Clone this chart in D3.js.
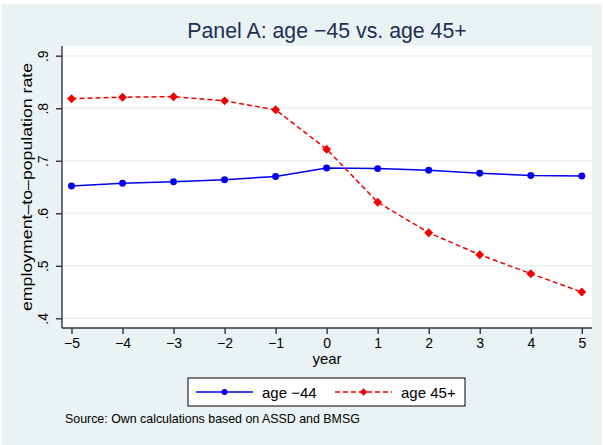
<!DOCTYPE html>
<html>
<head>
<meta charset="utf-8">
<script src="https://cdn.jsdelivr.net/npm/d3@7"></script>
<style>
  body { margin: 0; background: #fff; }
  text { font-family: "Liberation Sans", Arial, sans-serif; }
</style>
</head>
<body>
<svg id="chart" width="603" height="445"></svg>
<script>
const years = [-5, -4, -3, -2, -1, 0, 1, 2, 3, 4, 5];
const young = [0.652, 0.657, 0.660, 0.664, 0.670, 0.686, 0.685, 0.682, 0.676, 0.672, 0.671];
const old = [0.818, 0.821, 0.822, 0.814, 0.797, 0.722, 0.621, 0.563, 0.521, 0.485, 0.450];
const yTicks = [0.4, 0.5, 0.6, 0.7, 0.8, 0.9];
const seriesNames = ["age \u221244", "age 45+"];

const bg = "#eaf2f3",
      blue = "#0000f0",
      red = "#f00000";

const plot = {left: 62, right: 592, top: 46, bottom: 328};

const svg = d3.select("#chart");

svg.append("rect")
    .attr("x", 2).attr("y", 4)
    .attr("width", 600).attr("height", 441)
    .attr("fill", bg);

svg.append("rect")
    .attr("x", plot.left).attr("y", plot.top)
    .attr("width", plot.right - plot.left)
    .attr("height", plot.bottom - plot.top)
    .attr("fill", "#fff");

const x = d3.scaleLinear().domain([-5, 5]).range([71.5, 581.8]);
const y = d3.scaleLinear().domain([0.4, 0.9]).range([318.3, 55.7]);

//grid
svg.append("g")
    .selectAll("line")
    .data(yTicks)
    .enter().append("line")
    .attr("x1", plot.left)
    .attr("x2", plot.right)
    .attr("y1", d => y(d))
    .attr("y2", d => y(d))
    .attr("stroke", bg)
    .attr("stroke-width", 1.5);

//axes
let yAxis = svg.append("g")
    .attr("transform", `translate(${plot.left},0)`)
    .call(d3.axisLeft(y)
        .tickValues(yTicks)
        .tickSize(6)
        .tickSizeOuter(0)
        .tickFormat(d => d3.format(".1f")(d).replace(/^0/, "")));

yAxis.select(".domain")
    .attr("d", `M0,${plot.top}V${plot.bottom}`);

yAxis.selectAll(".tick text")
    .attr("x", null).attr("dy", null)
    .attr("text-anchor", "middle")
    .attr("transform", "translate(-14,0) rotate(-90)")
    .attr("font-size", 14)
    .attr("fill", "#000");

let xAxis = svg.append("g")
    .attr("transform", `translate(0,${plot.bottom})`)
    .call(d3.axisBottom(x)
        .tickValues(years)
        .tickSize(6)
        .tickSizeOuter(0)
        .tickFormat(d3.format("d")));

xAxis.select(".domain")
    .attr("d", `M${plot.left},0H${plot.right}`);

xAxis.selectAll(".tick text")
    .attr("y", 20).attr("dy", null)
    .attr("font-size", 14)
    .attr("fill", "#000");

svg.selectAll(".domain, .tick line")
    .attr("stroke", "#333")
    .attr("stroke-width", 1.4);

//labels
svg.append("text")
    .attr("x", 327).attr("y", 38)
    .attr("text-anchor", "middle")
    .attr("font-size", 21.3)
    .attr("fill", "#1c2f55")
    .text("Panel A: age \u221245 vs. age 45+");

svg.append("text")
    .attr("transform", `translate(32,${(plot.top + plot.bottom) / 2}) rotate(-90)`)
    .attr("text-anchor", "middle")
    .attr("font-size", 15.5)
    .attr("textLength", 248)
    .attr("lengthAdjust", "spacingAndGlyphs")
    .attr("fill", "#000")
    .text("employment\u2013to\u2013population rate");

svg.append("text")
    .attr("x", 327).attr("y", 364)
    .attr("text-anchor", "middle")
    .attr("font-size", 15)
    .attr("fill", "#000")
    .text("year");

//lines
let line = d3.line()
    .x(d => x(d[0]))
    .y(d => y(d[1]));

let youngData = years.map((yr, i) => [yr, young[i]]);
let oldData = years.map((yr, i) => [yr, old[i]]);

svg.append("path")
    .datum(youngData)
    .attr("d", line)
    .attr("fill", "none")
    .attr("stroke", blue)
    .attr("stroke-width", 1.5);

svg.append("path")
    .datum(oldData)
    .attr("d", line)
    .attr("fill", "none")
    .attr("stroke", red)
    .attr("stroke-width", 1.5)
    .attr("stroke-dasharray", "5,3");

let circle = d3.symbol().type(d3.symbolCircle).size(38);
let diamond = d3.symbol().type(d3.symbolSquare).size(40);

svg.append("g")
    .selectAll("path")
    .data(youngData)
    .enter().append("path")
    .attr("d", circle)
    .attr("transform", d => `translate(${x(d[0])},${y(d[1])})`)
    .attr("fill", blue);

svg.append("g")
    .selectAll("path")
    .data(oldData)
    .enter().append("path")
    .attr("d", diamond)
    .attr("transform", d => `translate(${x(d[0])},${y(d[1])}) rotate(45)`)
    .attr("fill", red);

//legend
let legend = svg.append("g").attr("transform", "translate(188,378)");

legend.append("rect")
    .attr("width", 277).attr("height", 28)
    .attr("fill", "#fff")
    .attr("stroke", "#000")
    .attr("stroke-width", 1);

const legendItems = [
    {name: seriesNames[0], color: blue, dash: null, sym: circle, rot: 0, x0: 8},
    {name: seriesNames[1], color: red, dash: "5,3", sym: diamond, rot: 45, x0: 147}
];

legendItems.forEach(it => {
    legend.append("line")
        .attr("x1", it.x0).attr("x2", it.x0 + 57)
        .attr("y1", 14).attr("y2", 14)
        .attr("stroke", it.color)
        .attr("stroke-width", 1.5)
        .attr("stroke-dasharray", it.dash);
    legend.append("path")
        .attr("d", it.sym.size(28))
        .attr("transform", `translate(${it.x0 + 28.5},14) rotate(${it.rot})`)
        .attr("fill", it.color);
    legend.append("text")
        .attr("x", it.x0 + 66).attr("y", 19.5)
        .attr("font-size", 15)
        .attr("fill", "#000")
        .text(it.name);
});

svg.append("text")
    .attr("x", 65).attr("y", 423)
    .attr("font-size", 12.4)
    .attr("fill", "#000")
    .text("Source: Own calculations based on ASSD and BMSG");
</script>
</body>
</html>
